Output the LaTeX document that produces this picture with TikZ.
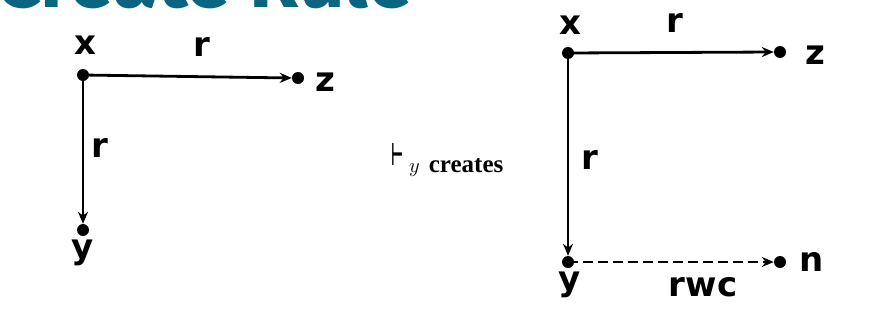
\documentclass[tikz,border=0pt]{standalone}
\usepackage{fontspec}
\usepackage{graphicx}
\setmainfont{Liberation Serif}
\newfontfamily\lblfont{DejaVu Sans}
\newfontfamily\titlefont{Fira Sans}
\usetikzlibrary{arrows.meta}
\definecolor{titleteal}{HTML}{0B6480}
\begin{document}
\begin{tikzpicture}[x=1pt,y=-1pt,
  dot/.style={circle,fill=black,inner sep=0pt,minimum size=12pt},
  lbl/.style={font=\lblfont\bfseries\fontsize{34}{34}\selectfont,inner sep=0pt},
  rel/.style={line width=2.8pt,-{Stealth[length=12pt,width=10pt]}},
  relwc/.style={rel,dash pattern=on 10pt off 5pt}
]
\useasboundingbox (0,0) rectangle (895,324);
\begin{scope}
  \clip (0,0) rectangle (895,324);
  \node[anchor=base west,text=titleteal,inner sep=0pt,
        font=\titlefont\bfseries\fontsize{80}{80}\selectfont] (title) at (-5,7) {Create Rule};
\end{scope}
% left graph
\node[dot] (x1) at (83,75) {};
\node[dot] (z1) at (298,78) {};
\node[dot] (y1) at (83,230) {};
\draw[rel] (x1.center) -- (z1.west);
\draw[rel] (x1.center) -- (y1.north);
\node[lbl] (lx1) at (85,45) {x};
\node[lbl] (lr1) at (202,47) {r};
\node[lbl] (lz1) at (325,82) {z};
\node[lbl] (lr2) at (100,148) {r};
\node[lbl] (ly1) at (83,253) {y};
% middle text
\node[anchor=base west,inner sep=0pt,font=\bfseries\fontsize{25}{25}\selectfont] (cr) at (391,172)
  {\raisebox{7pt}{\resizebox{12pt}{22pt}{\lblfont\bfseries ⊢}}\hspace{6pt}{\fontsize{20}{20}\selectfont$y$}\hspace{9pt}creates};
% right graph
\node[dot] (x2) at (568,53) {};
\node[dot] (z2) at (780,52) {};
\node[dot] (y2) at (568,262) {};
\node[dot] (n2) at (780,262) {};
\draw[rel] (x2.center) -- (z2.west);
\draw[rel] (x2.center) -- (y2.north);
\draw[relwc] (y2.center) -- (n2.west);
\node[lbl] (lx2) at (570,25) {x};
\node[lbl] (lr3) at (675,23) {r};
\node[lbl] (lz2) at (815,55) {z};
\node[lbl] (lr4) at (590,160) {r};
\node[lbl] (ly2) at (570,285) {y};
\node[lbl] (lrwc) at (703,287) {rwc};
\node[lbl] (ln2) at (812,262) {n};
\end{tikzpicture}
\end{document}
